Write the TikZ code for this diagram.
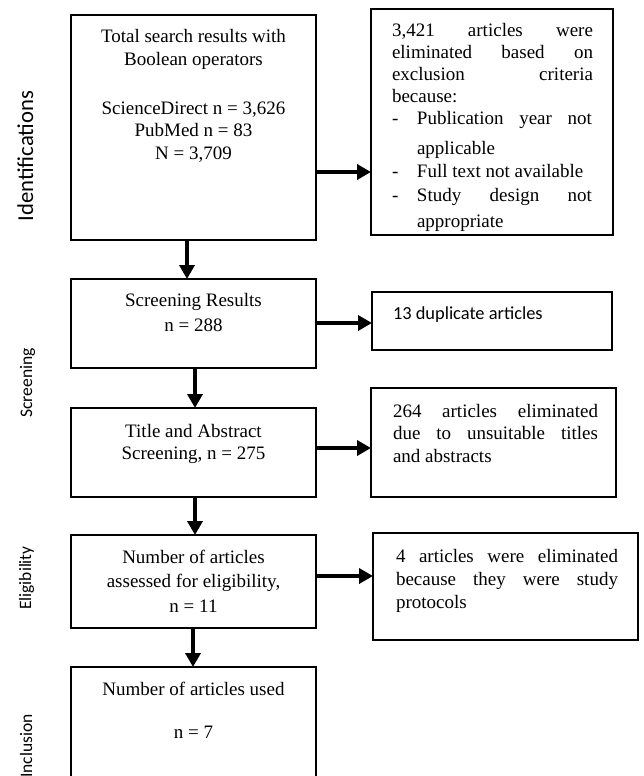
\documentclass[tikz,border=0pt]{standalone}
\usepackage{fontspec}
\setmainfont{Liberation Serif}
\newfontfamily\sansf{Carlito}
\usetikzlibrary{arrows.meta}
\tikzset{
  box/.style={draw, line width=1.5pt, inner sep=0pt, outer sep=0pt, anchor=north west},
  arr/.style={line width=3.5pt, -{Triangle[length=14pt,width=15pt]}},
  side/.style={rotate=90, anchor=base, inner sep=0pt, font=\sansf}
}
\begin{document}
\begin{tikzpicture}[x=1pt,y=-1pt]
\useasboundingbox (0,0) rectangle (643,776);
\fill[white] (0,0) rectangle (643,776);
\clip (0,0) rectangle (643,776);

% side labels
\node[side, font=\sansf\fontsize{22.7}{26}\selectfont] (lid) at (33,156) {Identifications};
\node[side, font=\sansf\fontsize{17.6}{20}\selectfont] (lsc) at (32,383) {Screening};
\node[side, font=\sansf\fontsize{17.4}{20}\selectfont] (lel) at (31,578) {Eligibility};
\node[side, font=\sansf\fontsize{17.5}{20}\selectfont] (lin) at (32,746) {Inclusion};

% left column
\node[box] (b1) at (71,15) {\parbox[t][225pt][t]{245pt}{\centering\fontsize{19}{23}\selectfont
  \rule{0pt}{28pt}Total search results with\\
  Boolean operators\\[25pt]
  ScienceDirect n = 3,626\\
  PubMed n = 83\\
  N = 3,709\par}};

\node[box] (b3) at (71,279) {\parbox[t][89pt][t]{245pt}{\centering\fontsize{19}{25}\selectfont
  \rule{0pt}{27pt}Screening Results\\
  n = 288\par}};

\node[box] (b5) at (71,408) {\parbox[t][89pt][t]{245pt}{\centering\fontsize{19}{22}\selectfont
  \rule{0pt}{29pt}Title and Abstract\\
  Screening, n = 275\par}};

\node[box] (b7) at (71,535) {\parbox[t][93pt][t]{245pt}{\centering\fontsize{19}{24.5}\selectfont
  \rule{0pt}{28pt}Number of articles\\
  assessed for eligibility,\\
  n = 11\par}};

\node[box] (b9) at (71,667) {\parbox[t][140pt][t]{245pt}{\centering\fontsize{19}{23}\selectfont
  \rule{0pt}{28pt}Number of articles used\\[20pt]
  n = 7\par}};

% right column
\node[box] (b2) at (371,9) {\parbox[t][226pt][t]{242pt}{\fontsize{19}{22}\selectfont\parindent=0pt\leftskip=21pt
  \rule{0pt}{28pt}\makebox[201pt][s]{3,421 articles were}\\
  \makebox[201pt][s]{eliminated based on}\\
  \makebox[201pt][s]{exclusion criteria}\\
  because:\\
  \makebox[25pt][l]{-}\makebox[175pt][s]{Publication year not}\\[8pt]
  \makebox[25pt]{}applicable\\[1pt]
  \makebox[25pt][l]{-}Full text not available\\[2pt]
  \makebox[25pt][l]{-}\makebox[175pt][s]{Study design not}\\[4pt]
  \makebox[25pt]{}appropriate\par}};

\node[box] (b4) at (372,292) {\parbox[t][58pt][t]{240pt}{\sansf\fontsize{18.4}{22}\selectfont\parindent=0pt\leftskip=21pt
  \rule{0pt}{27pt}13 duplicate articles\par}};

\node[box] (b6) at (371,388) {\parbox[t][109pt][t]{245pt}{\fontsize{19}{22.5}\selectfont\parindent=0pt\leftskip=22pt
  \rule{0pt}{29pt}\makebox[205pt][s]{264 articles eliminated}\\
  \makebox[205pt][s]{due to unsuitable titles}\\
  and abstracts\par}};

\node[box] (b8) at (373,533) {\parbox[t][107pt][t]{265pt}{\fontsize{19}{23}\selectfont\parindent=0pt\leftskip=23pt
  \rule{0pt}{29pt}\makebox[222pt][s]{4 articles were eliminated}\\
  \makebox[222pt][s]{because they were study}\\
  protocols\par}};

% connector guides
\coordinate (h1) at (0,172);
\coordinate (h2) at (0,323);
\coordinate (h3) at (0,448);
\coordinate (h4) at (0,576);
\coordinate (v1) at (187,0);
\coordinate (v2) at (195,0);
\coordinate (v3) at (195,0);
\coordinate (v4) at (193,0);

% horizontal arrows
\draw[arr] (b1.east |- h1) -- (b2.west |- h1);
\draw[arr] (b3.east |- h2) -- (b4.west |- h2);
\draw[arr] (b5.east |- h3) -- (b6.west |- h3);
\draw[arr] (b7.east |- h4) -- (b8.west |- h4);

% vertical arrows
\draw[arr] (b1.south -| v1) -- (b3.north -| v1);
\draw[arr] (b3.south -| v2) -- (b5.north -| v2);
\draw[arr] (b5.south -| v3) -- (b7.north -| v3);
\draw[arr] (b7.south -| v4) -- (b9.north -| v4);
\end{tikzpicture}
\end{document}
